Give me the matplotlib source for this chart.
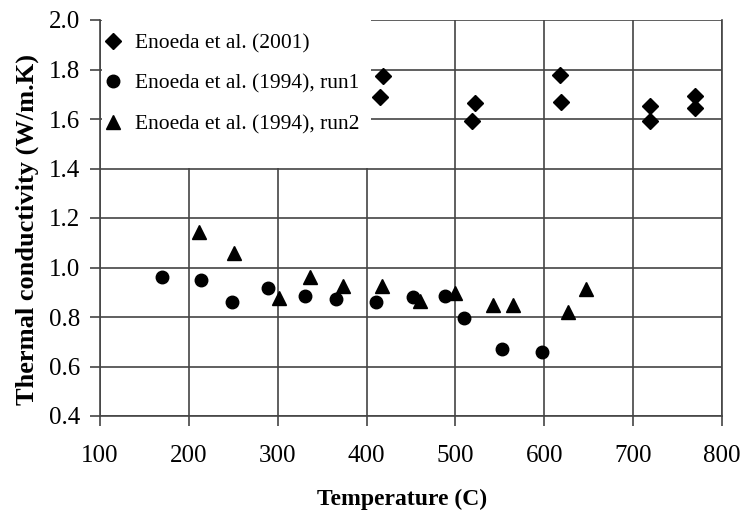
import matplotlib
matplotlib.use("Agg")
import matplotlib.pyplot as plt
from matplotlib.patches import Rectangle

# Data
enoeda2001_T = [415, 419, 519, 522, 618, 619, 719, 719, 770, 770]
enoeda2001_k = [1.690, 1.774, 1.593, 1.665, 1.777, 1.669, 1.653, 1.593, 1.693, 1.644]

run1_T = [170, 214, 248, 289, 331, 366, 411, 452, 488, 510, 552, 597]
run1_k = [0.963, 0.949, 0.859, 0.918, 0.885, 0.873, 0.859, 0.882, 0.886, 0.795, 0.671, 0.660]

run2_T = [211, 251, 302, 336, 374, 417, 460, 499, 542, 565, 627, 647]
run2_k = [1.145, 1.057, 0.878, 0.960, 0.925, 0.926, 0.866, 0.898, 0.848, 0.848, 0.821, 0.913]

x_ticks = [100, 200, 300, 400, 500, 600, 700, 800]
y_ticks = [0.4, 0.6, 0.8, 1.0, 1.2, 1.4, 1.6, 1.8, 2.0]

labels = ["Enoeda et al. (2001)", "Enoeda et al. (1994), run1", "Enoeda et al. (1994), run2"]

plt.rcParams['font.family'] = ['Liberation Serif', 'DejaVu Serif']

fig = plt.figure(figsize=(7.41, 5.18), dpi=100)
ax = fig.add_axes([100/741, 1 - 416/518, 622/741, 396/518])

gcol = '#444444'
ax.set_xlim(100, 800)
ax.set_ylim(0.4, 2.0)
ax.set_xticks(x_ticks)
ax.set_yticks(y_ticks)
ax.set_yticklabels([f"{v:.1f}" for v in y_ticks])
ax.set_axisbelow(True)
ax.grid(True, color=gcol, lw=1.2)

ax.spines['top'].set_visible(False)
for s in ['left', 'bottom', 'right']:
    ax.spines[s].set_color(gcol)
    ax.spines[s].set_linewidth(1.2)

ax.tick_params(axis='both', direction='out', length=7, width=1.2, color=gcol,
               labelsize=18, pad=7)
ax.tick_params(axis='x', pad=14)

# white area behind legend (covers grid lines like the original)
ax.add_patch(Rectangle((0.004, 0.626), 0.431, 0.39, transform=ax.transAxes,
                       facecolor='white', edgecolor='none', zorder=1.5, clip_on=False))

h1, = ax.plot(enoeda2001_T, enoeda2001_k, 'D', color='black', ms=7.8, ls='none', zorder=3)
h2, = ax.plot(run1_T, run1_k, 'o', color='black', ms=9.0, ls='none', zorder=3)
h3, = ax.plot(run2_T, run2_k, '^', color='black', ms=9.8, ls='none', zorder=3)

leg = ax.legend([h1, h2, h3], labels, loc='upper left',
                bbox_to_anchor=(3/622, 1 - 13/396),
                frameon=False, fontsize=15.5, handlelength=0.9, handletextpad=0.6,
                labelspacing=0.95, borderaxespad=0.0, borderpad=0.0)

ax.set_xlabel('Temperature (C)', fontsize=17, fontweight='bold')
ax.set_ylabel('Thermal conductivity (W/m.K)', fontsize=19, fontweight='bold')
ax.xaxis.set_label_coords(0.486, -0.185)
ax.yaxis.set_label_coords(-0.098, 0.47)

fig.savefig('out.png', dpi=100)
